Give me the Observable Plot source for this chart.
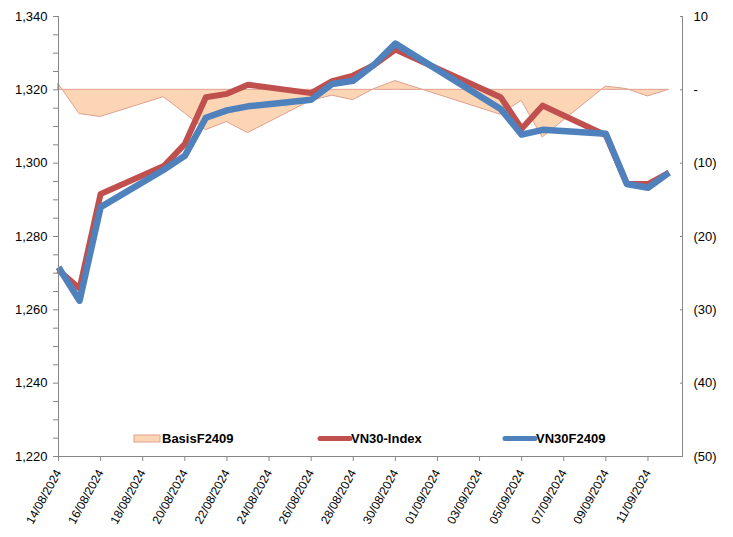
<!DOCTYPE html>
<html><head><meta charset="utf-8">
<script src="https://cdn.jsdelivr.net/npm/d3@7"></script>
<script src="https://cdn.jsdelivr.net/npm/@observablehq/plot@0.6"></script>
<style>
body{margin:0;background:#fff;font-family:"Liberation Sans",Arial,sans-serif}
#chart{position:relative;width:733px;height:537px}
</style>
</head><body><div id="chart"></div>
<script>
// ---- data ----
const dates = ["2024-08-14","2024-08-15","2024-08-16","2024-08-19","2024-08-20","2024-08-21","2024-08-22","2024-08-23",
  "2024-08-26","2024-08-27","2024-08-28","2024-08-29","2024-08-30","2024-09-04","2024-09-05","2024-09-06",
  "2024-09-09","2024-09-10","2024-09-11","2024-09-12"];
const vn30Index = [1270.8,1265.8,1291.6,1299.2,1305.2,1318.0,1318.9,1321.4,1319.1,1322.4,1323.9,1326.8,1331.0,1318.0,1309.4,1315.7,1307.6,1294.3,1294.3,1297.4];
const vn30F2409 = [1271.6,1262.5,1288.0,1298.2,1302.0,1312.4,1314.4,1315.5,1317.3,1321.6,1322.5,1326.9,1332.6,1314.8,1307.8,1309.1,1308.0,1294.3,1293.3,1297.4];
const basisF2409 = [0.8,-3.3,-3.7,-1.0,-3.2,-5.5,-4.4,-5.9,-1.5,-0.8,-1.4,0.1,1.2,-3.4,-1.5,-6.5,0.45,0.1,-0.9,0.0];
const seriesNames = ["BasisF2409","VN30-Index","VN30F2409"];
const tickDates = ["2024-08-14","2024-08-16","2024-08-18","2024-08-20","2024-08-22","2024-08-24","2024-08-26","2024-08-28",
  "2024-08-30","2024-09-01","2024-09-03","2024-09-05","2024-09-07","2024-09-09","2024-09-11"];
const leftTicks = [1220,1240,1260,1280,1300,1320,1340];
const rightTicks = [-50,-40,-30,-20,-10,0,10];

// ---- styling ----
const colIndex = "#C0504D", colFut = "#4F81BD", colBasisFill = "#FCD5B5", colBasisLine = "#E0A090", axisCol = "#868686";
const font = '"Liberation Sans", Arial, sans-serif';

const parse = d3.utcParse("%Y-%m-%d");
const data = dates.map((d, i) => ({date: parse(d), index: vn30Index[i], fut: vn30F2409[i], basis: basisF2409[i]}));
const lMin = d3.min(leftTicks), lMax = d3.max(leftTicks), rMin = d3.min(rightTicks), rMax = d3.max(rightTicks);
const toLeft = b => lMin + (b - rMin) * (lMax - lMin) / (rMax - rMin);
const fromLeft = v => Math.round(rMin + (v - lMin) * (rMax - rMin) / (lMax - lMin));
const fmtR = v => v === 0 ? "-" : v < 0 ? `(${-v})` : `${v}`;
const xStart = parse(dates[0]);
const xEnd = new Date(+parse(dates[dates.length - 1]) + 0.64 * 864e5);
const minorLeft = d3.range(lMin, lMax + 1, 5);

const chart = Plot.plot({
  width: 733, height: 537,
  marginLeft: 58, marginRight: 51, marginTop: 16, marginBottom: 81,
  style: {fontFamily: font, fontSize: "13px", color: "#000", background: "#fff"},
  x: {type: "utc", domain: [xStart, xEnd]},
  y: {domain: [lMin, lMax]},
  marks: [
    Plot.areaY(data, {x: "date", y1: () => toLeft(0), y2: d => toLeft(d.basis), fill: colBasisFill, stroke: colBasisLine, strokeWidth: 1}),
    Plot.line(data, {x: "date", y: "index", stroke: colIndex, strokeWidth: 6, strokeLinecap: "butt", strokeLinejoin: "round"}),
    Plot.line(data, {x: "date", y: "fut", stroke: colFut, strokeWidth: 6.5, strokeLinecap: "butt", strokeLinejoin: "round"}),
    Plot.ruleX([xStart], {stroke: axisCol}),
    Plot.ruleX([xEnd], {stroke: axisCol}),
    Plot.ruleY([lMin], {stroke: axisCol}),
    Plot.axisY({anchor: "left", ticks: minorLeft, tickSize: 5, tickPadding: 6, stroke: axisCol, fill: "#000",
      tickFormat: d => leftTicks.includes(d) ? d3.format(",")(d) : "", label: null}),
    Plot.axisY({anchor: "right", ticks: rightTicks.map(toLeft), tickSize: -3, tickPadding: 14, stroke: axisCol, fill: "#000",
      tickFormat: v => fmtR(fromLeft(v)), label: null}),
    Plot.axisX({ticks: tickDates.map(parse), tickFormat: d3.utcFormat("%d/%m/%Y"), tickRotate: -61, tickSize: 5, tickPadding: 9,
      fontSize: 12, stroke: axisCol, fill: "#000", label: null})
  ]
});
document.getElementById("chart").appendChild(chart);

// ---- legend (inside plot area, bottom) ----
const svg = d3.select(chart);
const lg = svg.append("g").attr("font-family", font).attr("font-size", 13).attr("font-weight", "bold").attr("text-anchor", "start");
const ly = 438.5;
const items = [
  {name: seriesNames[0], x: 134, type: "area"},
  {name: seriesNames[1], x: 320, type: "line", color: colIndex},
  {name: seriesNames[2], x: 505, type: "line", color: colFut}
];
items.forEach(it => {
  if (it.type === "area") {
    lg.append("rect").attr("x", it.x).attr("y", ly - 3.5).attr("width", 26).attr("height", 7)
      .attr("fill", colBasisFill).attr("stroke", colBasisLine);
  } else {
    lg.append("line").attr("x1", it.x).attr("x2", it.x + 30).attr("y1", ly).attr("y2", ly)
      .attr("stroke", it.color).attr("stroke-width", 5).attr("stroke-linecap", "round");
  }
  lg.append("text").attr("x", it.x + (it.type === "area" ? 28 : 31)).attr("y", ly).attr("dy", "0.35em")
    .attr("text-anchor", "start").attr("fill", "#000").text(it.name);
});
</script>
</body></html>
